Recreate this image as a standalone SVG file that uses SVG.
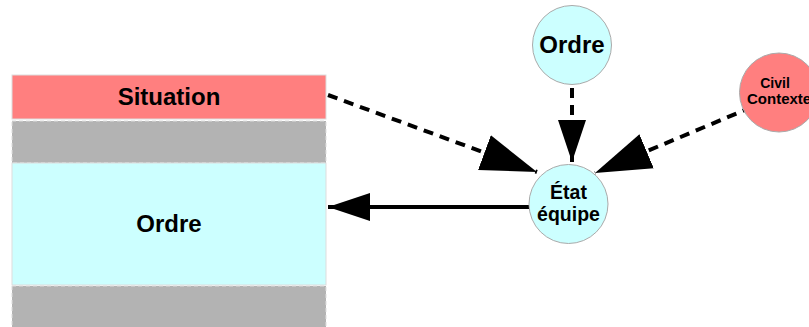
<svg xmlns="http://www.w3.org/2000/svg" width="809" height="327" viewBox="0 0 809 327">
<style>
text{font-family:"Liberation Sans",Arial,sans-serif;font-weight:bold;fill:#000;text-anchor:middle}
.cyan{fill:#ccffff}
.red{fill:#ff7f7f}
.gray{fill:#b3b3b3;stroke:#dddddd;stroke-width:1;stroke-dasharray:4,3}
.circ{stroke:#aaaaaa;stroke-width:1}
.dash{fill:none;stroke:#000;stroke-width:4;stroke-dasharray:10,7}
.solid{fill:none;stroke:#000;stroke-width:4}
</style>
<defs>
<marker id="bigArrow" markerUnits="userSpaceOnUse" markerWidth="58" markerHeight="40" refX="56" refY="20" orient="auto" viewBox="0 0 58 40">
<path d="M0,1.5 L56,20 L0,38.5 Z" fill="#000"/>
</marker>
<marker id="midArrow" markerUnits="userSpaceOnUse" markerWidth="44" markerHeight="30" refX="42" refY="15" orient="auto" viewBox="0 0 44 30">
<path d="M0,1 L42,15 L0,29 Z" fill="#000"/>
</marker>
</defs>
<g id="stack">
<g id="situation">
<rect x="12" y="75" width="314" height="44" class="red" stroke="#dddddd"/>
<text x="169" y="105" font-size="24">Situation</text>
</g>
<g id="gray1"><rect x="12" y="121" width="314" height="42" class="gray"/></g>
<g id="ordre-box">
<rect x="12" y="163" width="314" height="122" class="cyan" stroke="#dddddd"/>
<text x="169" y="232" font-size="24">Ordre</text>
</g>
<g id="gray2"><rect x="12" y="286" width="314" height="45" class="gray"/></g>
</g>
<g id="connectors">
<path d="M328,95 L537,172" class="dash" marker-end="url(#bigArrow)"/>
<path d="M572,88 L572,162" class="dash" marker-end="url(#midArrow)"/>
<path d="M752,107 L595,173" class="dash" marker-end="url(#bigArrow)"/>
<path d="M529,207 L328,207" class="solid" marker-end="url(#midArrow)"/>
</g>
<g id="ordre-node">
<circle cx="572" cy="45" r="39.5" class="cyan circ"/>
<text x="572" y="53" font-size="24">Ordre</text>
</g>
<g id="etat">
<circle cx="568.5" cy="204" r="39.5" class="cyan circ"/>
<text x="568.5" y="199" font-size="19.5">État</text>
<text x="568.5" y="221" font-size="19.5">équipe</text>
</g>
<g id="civil">
<circle cx="779" cy="92.5" r="39.5" class="red circ"/>
<text x="775" y="88" font-size="14">Civil</text>
<text x="747" y="104" font-size="15" style="text-anchor:start">Contexte</text>
</g>
</svg>
